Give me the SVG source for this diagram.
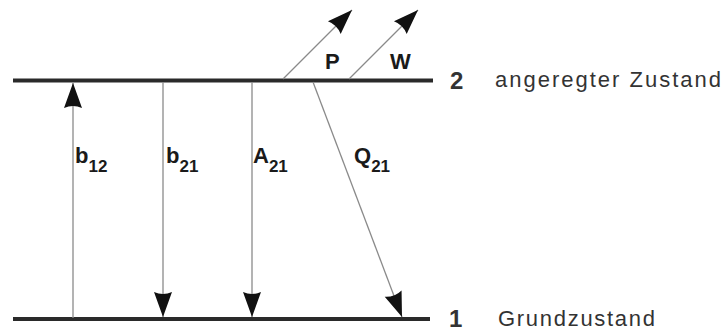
<svg xmlns="http://www.w3.org/2000/svg" width="723" height="331" viewBox="0 0 723 331">
<style>
.level{stroke:#2a2a2a;stroke-width:4;fill:none}
.tr{stroke:#8a8a8a;stroke-width:1.3;fill:none}
.lbl{font-family:"Liberation Sans",Arial,sans-serif;font-weight:bold;fill:#1a1a1a}
.sub{font-size:17px}
.lvl{font-family:"Liberation Sans",Arial,sans-serif;fill:#333}
</style>
<defs>
<marker id="ah" markerUnits="userSpaceOnUse" markerWidth="28" markerHeight="22" viewBox="-27 -11 28 22" refX="0" refY="0" orient="auto">
<path d="M0,0 L-25,-9 Q-21,0 -25,9 Z" fill="#111"/>
</marker>
</defs>
<rect width="723" height="331" fill="#fff"/>
<g id="level2">
<line class="level" x1="13" y1="80.5" x2="433" y2="80.5"/>
<text class="lvl" x="450" y="89" font-size="24" font-weight="bold">2</text>
<text class="lvl" x="495" y="87" font-size="22" textLength="226" lengthAdjust="spacing">angeregter  Zustand</text>
</g>
<g id="level1">
<line class="level" x1="13" y1="319" x2="430" y2="319"/>
<text class="lvl" x="449" y="327" font-size="24" font-weight="bold">1</text>
<text class="lvl" x="498" y="326" font-size="22" textLength="157" lengthAdjust="spacing">Grundzustand</text>
</g>
<g id="connectors">
<line class="tr" x1="73" y1="318" x2="73" y2="83" marker-end="url(#ah)"/>
<line class="tr" x1="163" y1="82" x2="163" y2="317" marker-end="url(#ah)"/>
<line class="tr" x1="252" y1="82" x2="252" y2="317" marker-end="url(#ah)"/>
<line class="tr" x1="313" y1="82" x2="402" y2="317" marker-end="url(#ah)"/>
<line class="tr" x1="283" y1="79" x2="352" y2="10" marker-end="url(#ah)"/>
<line class="tr" x1="349" y1="79" x2="418" y2="10" marker-end="url(#ah)"/>
</g>
<g id="labels">
<text class="lbl" x="75" y="163" font-size="22">b<tspan class="sub" dy="9">12</tspan></text>
<text class="lbl" x="166" y="163" font-size="22">b<tspan class="sub" dy="9">21</tspan></text>
<text class="lbl" x="253" y="163" font-size="22">A<tspan class="sub" dy="9">21</tspan></text>
<text class="lbl" x="354" y="163" font-size="22">Q<tspan class="sub" dy="9">21</tspan></text>
<text class="lbl" x="325" y="69" font-size="22">P</text>
<text class="lbl" x="390" y="69" font-size="22">W</text>
</g>
</svg>
